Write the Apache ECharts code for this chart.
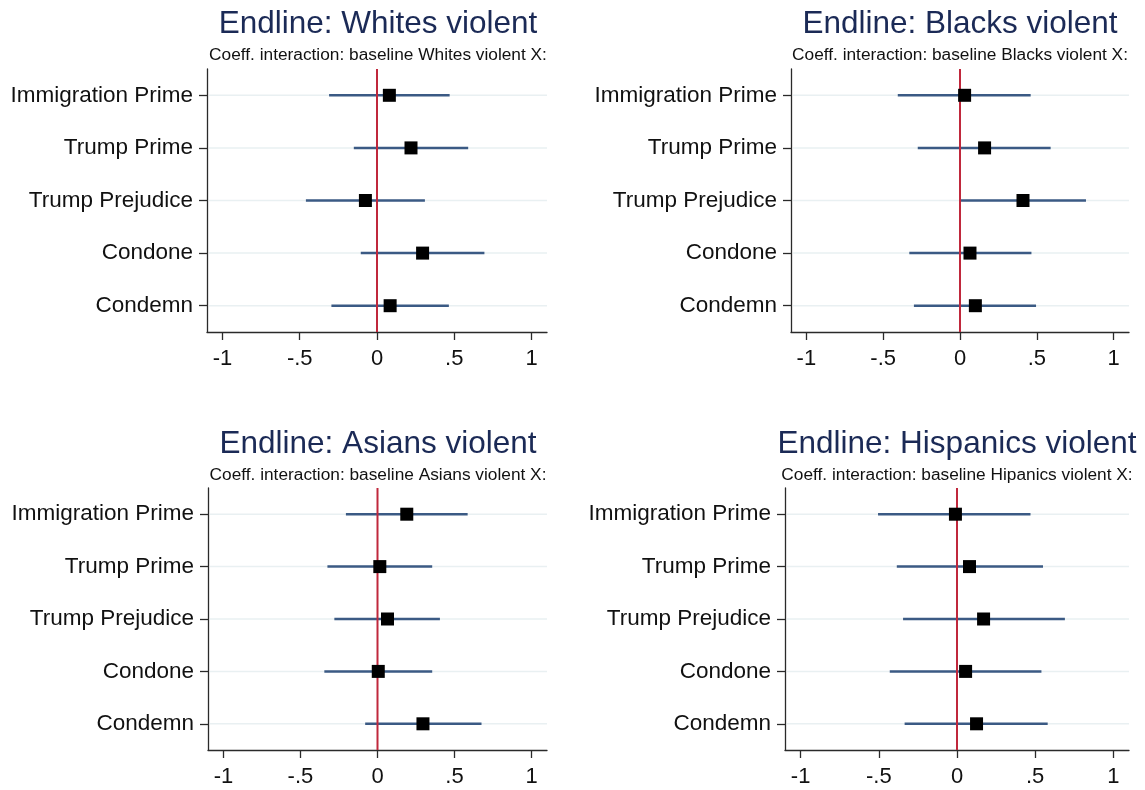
<!DOCTYPE html>
<html>
<head>
<meta charset="utf-8">
<title>Endline coefficient plots</title>
<script src="https://cdn.jsdelivr.net/npm/echarts@6/dist/echarts.min.js"></script>
<style>
  html, body { margin: 0; padding: 0; background: #ffffff; }
  #chart { width: 1145px; height: 790px; }
</style>
</head>
<body>
<div id="chart"></div>
<script>
// Treatment arms (rows, top to bottom)
const categories = ['Immigration Prime', 'Trump Prime', 'Trump Prejudice', 'Condone', 'Condemn'];

// Panel headings
const panelTitles = [
  'Endline: Whites violent',
  'Endline: Blacks violent',
  'Endline: Asians violent',
  'Endline: Hispanics violent'
];
const panelSubtitles = [
  'Coeff. interaction: baseline Whites violent X:',
  'Coeff. interaction: baseline Blacks violent X:',
  'Coeff. interaction: baseline Asians violent X:',
  'Coeff. interaction: baseline Hipanics violent X:'
];

// x-axis ticks
const xTickValues = [-1, -0.5, 0, 0.5, 1];
const zeroLine = [[0, 0]];

// Point estimates and 95% confidence bounds per panel
const whitesEst = [0.08, 0.22, -0.075, 0.295, 0.085];
const whitesLo  = [-0.31, -0.15, -0.46, -0.105, -0.295];
const whitesHi  = [0.47, 0.59, 0.31, 0.695, 0.465];

const blacksEst = [0.03, 0.16, 0.41, 0.065, 0.10];
const blacksLo  = [-0.405, -0.275, 0.0, -0.33, -0.30];
const blacksHi  = [0.46, 0.59, 0.82, 0.465, 0.495];

const asiansEst = [0.19, 0.015, 0.065, 0.005, 0.295];
const asiansLo  = [-0.205, -0.325, -0.28, -0.345, -0.08];
const asiansHi  = [0.585, 0.355, 0.405, 0.355, 0.675];

const hispanicsEst = [-0.01, 0.08, 0.17, 0.055, 0.125];
const hispanicsLo  = [-0.505, -0.385, -0.345, -0.43, -0.335];
const hispanicsHi  = [0.47, 0.55, 0.69, 0.54, 0.58];

const panels = [
  { est: whitesEst, lo: whitesLo, hi: whitesHi },
  { est: blacksEst, lo: blacksLo, hi: blacksHi },
  { est: asiansEst, lo: asiansLo, hi: asiansHi },
  { est: hispanicsEst, lo: hispanicsLo, hi: hispanicsHi }
];

// Layout of the four plot regions
const gridBoxes = [
  { left: 207, top: 69,  width: 340, height: 263 },
  { left: 791, top: 69,  width: 338, height: 263 },
  { left: 208, top: 488, width: 339, height: 262 },
  { left: 785, top: 488, width: 344, height: 262 }
];
const titleCenters = [378, 960, 378, 957];
const titleTops = [8, 8, 428, 428];
const subtitleTops = [47, 47, 467, 467];

const FONT = '"Liberation Sans", Arial, Helvetica, sans-serif';
const TITLE_COLOR = '#1b2a56';
const CI_COLOR = '#3b5a84';
const ZERO_COLOR = '#c0283c';
const GRID_COLOR = '#e9f0f2';
const AXIS_COLOR = '#2a2a2a';

function fmtTick(v) {
  if (v === 0) return '0';
  const s = String(Math.abs(v)).replace(/^0\./, '.');
  return (v < 0 ? '-' : '') + s;
}

const title = [];
const grid = [];
const xAxis = [];
const yAxis = [];
const series = [];

panels.forEach((p, i) => {
  title.push({
    text: panelTitles[i],
    left: titleCenters[i], top: titleTops[i], textAlign: 'center', padding: 0,
    textStyle: { fontFamily: FONT, fontSize: 31.5, fontWeight: 'normal', color: TITLE_COLOR }
  });
  title.push({
    text: panelSubtitles[i],
    left: titleCenters[i], top: subtitleTops[i], textAlign: 'center', padding: 0,
    textStyle: { fontFamily: FONT, fontSize: 17.3, fontWeight: 'normal', color: '#111111' }
  });

  grid.push(Object.assign({ containLabel: false }, gridBoxes[i]));

  xAxis.push({
    type: 'value', gridIndex: i, min: -1.1, max: 1.1,
    axisLine: { show: true, lineStyle: { color: AXIS_COLOR, width: 1.3 } },
    axisTick: { show: true, customValues: xTickValues, length: 8, lineStyle: { color: AXIS_COLOR, width: 1.3 } },
    axisLabel: {
      customValues: xTickValues, formatter: fmtTick, margin: 16,
      fontFamily: FONT, fontSize: 22, color: '#111111'
    },
    splitLine: { show: false }
  });

  yAxis.push({
    type: 'category', gridIndex: i, data: categories, inverse: true, boundaryGap: true,
    axisLine: { show: true, onZero: false, lineStyle: { color: AXIS_COLOR, width: 1.3 } },
    axisTick: { show: true, alignWithLabel: true, length: 8, lineStyle: { color: AXIS_COLOR, width: 1.3 } },
    axisLabel: { margin: 14, padding: [4, 0, 0, 0], fontFamily: FONT, fontSize: 22.5, color: '#111111' },
    splitLine: { show: false }
  });

  // Horizontal reference lines at each category
  series.push({
    type: 'custom', xAxisIndex: i, yAxisIndex: i, z: 1, silent: true,
    data: categories.map((c, k) => [0, k]),
    encode: { x: 0, y: 1 },
    renderItem: (params, api) => {
      const y = api.coord([0, api.value(1)])[1];
      const cs = params.coordSys;
      return {
        type: 'line',
        shape: { x1: cs.x + 2, y1: y, x2: cs.x + cs.width, y2: y },
        style: { stroke: GRID_COLOR, lineWidth: 1.5 }
      };
    }
  });

  // Confidence intervals
  series.push({
    type: 'custom', xAxisIndex: i, yAxisIndex: i, z: 2, silent: true,
    data: categories.map((c, k) => [p.lo[k], p.hi[k], k]),
    encode: { x: [0, 1], y: 2 },
    renderItem: (params, api) => {
      const a = api.coord([api.value(0), api.value(2)]);
      const b = api.coord([api.value(1), api.value(2)]);
      return {
        type: 'line',
        shape: { x1: a[0], y1: a[1], x2: b[0], y2: b[1] },
        style: { stroke: CI_COLOR, lineWidth: 2.5 }
      };
    }
  });

  // Vertical line at zero
  series.push({
    type: 'custom', xAxisIndex: i, yAxisIndex: i, z: 3, silent: true,
    data: zeroLine,
    encode: { x: 0, y: 1 },
    renderItem: (params, api) => {
      const x = api.coord([api.value(0), 0])[0];
      const cs = params.coordSys;
      return {
        type: 'line',
        shape: { x1: x, y1: cs.y, x2: x, y2: cs.y + cs.height },
        style: { stroke: ZERO_COLOR, lineWidth: 2 }
      };
    }
  });

  // Point estimates
  series.push({
    type: 'scatter', xAxisIndex: i, yAxisIndex: i, z: 4,
    symbol: 'rect', symbolSize: 13,
    itemStyle: { color: '#000000', opacity: 1 },
    emphasis: { disabled: true },
    data: categories.map((c, k) => [p.est[k], k])
  });
});

const chart = echarts.init(document.getElementById('chart'), null, { renderer: 'canvas' });
chart.setOption({
  backgroundColor: '#ffffff',
  animation: false,
  title, grid, xAxis, yAxis, series
});
</script>
</body>
</html>
